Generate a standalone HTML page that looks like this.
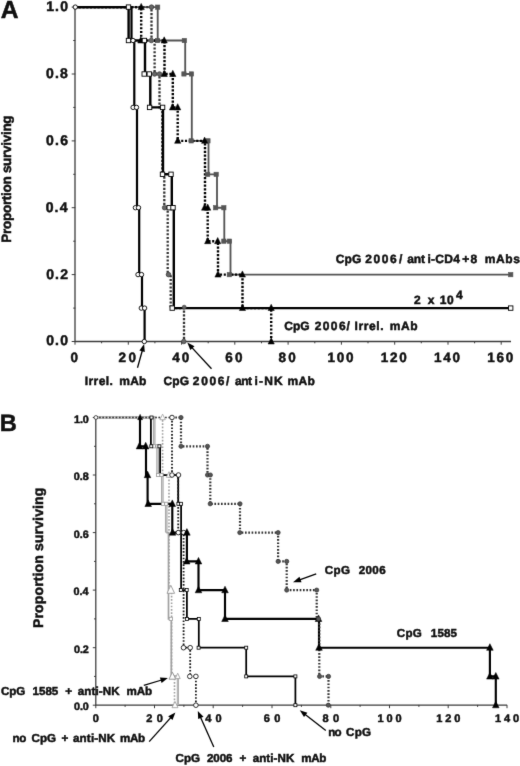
<!DOCTYPE html>
<html lang="en">
<head>
<meta charset="utf-8">
<title>Survival curves</title>
<style>
html,body{margin:0;padding:0;background:#fff;}
body{width:520px;height:766px;overflow:hidden;}
svg{display:block;}
svg text{font-family:"Liberation Sans",Arial,Helvetica,sans-serif;font-weight:bold;fill:#111;stroke:#111;stroke-width:0.5px;text-rendering:geometricPrecision;}
</style>
</head>
<body>
<svg width="520" height="766" viewBox="0 0 520 766">
<defs><filter id="soft" x="0" y="0" width="520" height="766" filterUnits="userSpaceOnUse" color-interpolation-filters="sRGB"><feConvolveMatrix order="3" kernelMatrix="0.0074 0.0713 0.0074 0.0713 0.6853 0.0713 0.0074 0.0713 0.0074" edgeMode="duplicate" preserveAlpha="true"/></filter></defs>
<rect width="520" height="766" fill="#fff"/>
<g filter="url(#soft)">
<rect width="520" height="766" fill="#fff"/>
<path d="M75.0 7.1 V341.5 H511" fill="none" stroke="#3c3c3c" stroke-width="1.3"/>
<line x1="75.0" y1="341.2" x2="75.0" y2="344.7" stroke="#3c3c3c" stroke-width="1"/>
<line x1="101.6" y1="341.2" x2="101.6" y2="343.3" stroke="#3c3c3c" stroke-width="1"/>
<line x1="128.3" y1="341.2" x2="128.3" y2="344.7" stroke="#3c3c3c" stroke-width="1"/>
<line x1="154.9" y1="341.2" x2="154.9" y2="343.3" stroke="#3c3c3c" stroke-width="1"/>
<line x1="181.6" y1="341.2" x2="181.6" y2="344.7" stroke="#3c3c3c" stroke-width="1"/>
<line x1="208.2" y1="341.2" x2="208.2" y2="343.3" stroke="#3c3c3c" stroke-width="1"/>
<line x1="234.8" y1="341.2" x2="234.8" y2="344.7" stroke="#3c3c3c" stroke-width="1"/>
<line x1="261.5" y1="341.2" x2="261.5" y2="343.3" stroke="#3c3c3c" stroke-width="1"/>
<line x1="288.1" y1="341.2" x2="288.1" y2="344.7" stroke="#3c3c3c" stroke-width="1"/>
<line x1="314.8" y1="341.2" x2="314.8" y2="343.3" stroke="#3c3c3c" stroke-width="1"/>
<line x1="341.4" y1="341.2" x2="341.4" y2="344.7" stroke="#3c3c3c" stroke-width="1"/>
<line x1="368.0" y1="341.2" x2="368.0" y2="343.3" stroke="#3c3c3c" stroke-width="1"/>
<line x1="394.7" y1="341.2" x2="394.7" y2="344.7" stroke="#3c3c3c" stroke-width="1"/>
<line x1="421.3" y1="341.2" x2="421.3" y2="343.3" stroke="#3c3c3c" stroke-width="1"/>
<line x1="448.0" y1="341.2" x2="448.0" y2="344.7" stroke="#3c3c3c" stroke-width="1"/>
<line x1="474.6" y1="341.2" x2="474.6" y2="343.3" stroke="#3c3c3c" stroke-width="1"/>
<line x1="501.2" y1="341.2" x2="501.2" y2="344.7" stroke="#3c3c3c" stroke-width="1"/>
<line x1="71.7" y1="341.5" x2="75.3" y2="341.5" stroke="#3c3c3c" stroke-width="1"/>
<line x1="73.2" y1="308.1" x2="75.3" y2="308.1" stroke="#3c3c3c" stroke-width="1"/>
<line x1="71.7" y1="274.6" x2="75.3" y2="274.6" stroke="#3c3c3c" stroke-width="1"/>
<line x1="73.2" y1="241.2" x2="75.3" y2="241.2" stroke="#3c3c3c" stroke-width="1"/>
<line x1="71.7" y1="207.7" x2="75.3" y2="207.7" stroke="#3c3c3c" stroke-width="1"/>
<line x1="73.2" y1="174.3" x2="75.3" y2="174.3" stroke="#3c3c3c" stroke-width="1"/>
<line x1="71.7" y1="140.9" x2="75.3" y2="140.9" stroke="#3c3c3c" stroke-width="1"/>
<line x1="73.2" y1="107.4" x2="75.3" y2="107.4" stroke="#3c3c3c" stroke-width="1"/>
<line x1="71.7" y1="74.0" x2="75.3" y2="74.0" stroke="#3c3c3c" stroke-width="1"/>
<line x1="73.2" y1="40.5" x2="75.3" y2="40.5" stroke="#3c3c3c" stroke-width="1"/>
<line x1="71.7" y1="7.1" x2="75.3" y2="7.1" stroke="#3c3c3c" stroke-width="1"/>
<path d="M75.0 7.1 L157.7 7.1 L157.7 40.5 L185.2 40.5 L185.2 74.0 L191.8 74.0 L191.8 140.9 L208.5 140.9 L208.5 174.3 L217.0 174.3 L217.0 207.7 L224.3 207.7 L224.3 241.2 L230.5 241.2 L230.5 274.6 L510.7 274.6" fill="none" stroke="#555" stroke-width="1.85"/>
<path d="M75.0 7.1 L151.5 7.1 L151.5 40.5 L154.6 40.5 L154.6 74.0 L159.5 74.0 L159.5 107.4 L162.3 107.4 L162.3 174.3 L164.3 174.3 L164.3 207.7 L167.7 207.7 L167.7 274.6 L170.7 274.6 L170.7 308.1 L184.0 308.1 L184.0 341.5" fill="none" stroke="#333" stroke-width="2.3" stroke-dasharray="2.1 1.65"/>
<path d="M75.0 7.1 L141.2 7.1 L141.2 40.5 L164.5 40.5 L164.5 74.0 L172.8 74.0 L172.8 107.4 L177.7 107.4 L177.7 140.9 L205.0 140.9 L205.0 207.7 L207.7 207.7 L207.7 241.2 L218.0 241.2 L218.0 274.6 L242.5 274.6 L242.5 308.1 L271.2 308.1 L271.2 341.5" fill="none" stroke="#000" stroke-width="2.4" stroke-dasharray="2.1 1.65"/>
<path d="M75.0 7.1 L128.6 7.1 L128.6 40.5 L145.0 40.5 L145.0 74.0 L150.3 74.0 L150.3 107.4 L163.0 107.4 L163.0 174.3 L171.8 174.3 L171.8 207.7 L173.8 207.7 L173.8 308.1 L510.7 308.1" fill="none" stroke="#000" stroke-width="2.4"/>
<path d="M75.0 7.1 L131.5 7.1 L131.5 40.5 L134.3 40.5 L134.3 107.4 L137.0 107.4 L137.0 207.7 L139.2 207.7 L139.2 274.6 L142.0 274.6 L142.0 308.1 L144.6 308.1 L144.6 341.5" fill="none" stroke="#000" stroke-width="2.2"/>
<rect x="155.5" y="5.0" width="4.3" height="4.3" fill="#555" stroke="#555" stroke-width="0.6"/>
<rect x="155.3" y="38.4" width="4.3" height="4.3" fill="#555" stroke="#555" stroke-width="0.6"/>
<rect x="182.2" y="38.4" width="4.3" height="4.3" fill="#555" stroke="#555" stroke-width="0.6"/>
<rect x="181.8" y="71.8" width="4.3" height="4.3" fill="#555" stroke="#555" stroke-width="0.6"/>
<rect x="189.3" y="71.8" width="4.3" height="4.3" fill="#555" stroke="#555" stroke-width="0.6"/>
<rect x="189.0" y="138.7" width="4.3" height="4.3" fill="#555" stroke="#555" stroke-width="0.6"/>
<rect x="205.8" y="138.7" width="4.3" height="4.3" fill="#555" stroke="#555" stroke-width="0.6"/>
<rect x="205.5" y="172.2" width="4.3" height="4.3" fill="#555" stroke="#555" stroke-width="0.6"/>
<rect x="214.0" y="172.2" width="4.3" height="4.3" fill="#555" stroke="#555" stroke-width="0.6"/>
<rect x="213.5" y="205.6" width="4.3" height="4.3" fill="#555" stroke="#555" stroke-width="0.6"/>
<rect x="221.7" y="205.6" width="4.3" height="4.3" fill="#555" stroke="#555" stroke-width="0.6"/>
<rect x="221.7" y="239.0" width="4.3" height="4.3" fill="#555" stroke="#555" stroke-width="0.6"/>
<rect x="227.3" y="239.0" width="4.3" height="4.3" fill="#555" stroke="#555" stroke-width="0.6"/>
<rect x="227.2" y="272.5" width="4.3" height="4.3" fill="#555" stroke="#555" stroke-width="0.6"/>
<rect x="508.6" y="272.5" width="4.3" height="4.3" fill="#555" stroke="#555" stroke-width="0.6"/>
<circle cx="151.5" cy="7.1" r="2.3" fill="#666" stroke="#333" stroke-width="0.7"/>
<circle cx="151.3" cy="40.5" r="2.3" fill="#666" stroke="#333" stroke-width="0.7"/>
<circle cx="154.6" cy="74.0" r="2.3" fill="#666" stroke="#333" stroke-width="0.7"/>
<circle cx="159.5" cy="74.0" r="2.3" fill="#666" stroke="#333" stroke-width="0.7"/>
<circle cx="164.6" cy="207.7" r="2.3" fill="#666" stroke="#333" stroke-width="0.7"/>
<circle cx="168.5" cy="274.6" r="2.3" fill="#666" stroke="#333" stroke-width="0.7"/>
<circle cx="183.8" cy="341.5" r="2.3" fill="#666" stroke="#333" stroke-width="0.7"/>
<circle cx="184.2" cy="307.2" r="2.0" fill="#666" stroke="#333" stroke-width="0.6"/>
<path d="M138.1 9.6 L144.3 9.6 L141.2 3.4 Z" fill="#000" stroke="#000" stroke-width="0.5"/>
<path d="M137.7 43.0 L143.9 43.0 L140.8 36.8 Z" fill="#000" stroke="#000" stroke-width="0.5"/>
<path d="M161.1 43.0 L167.3 43.0 L164.2 36.8 Z" fill="#000" stroke="#000" stroke-width="0.5"/>
<path d="M161.1 76.5 L167.3 76.5 L164.2 70.3 Z" fill="#000" stroke="#000" stroke-width="0.5"/>
<path d="M169.7 76.5 L175.9 76.5 L172.8 70.3 Z" fill="#000" stroke="#000" stroke-width="0.5"/>
<path d="M169.4 109.9 L175.6 109.9 L172.5 103.7 Z" fill="#000" stroke="#000" stroke-width="0.5"/>
<path d="M174.6 109.9 L180.8 109.9 L177.7 103.7 Z" fill="#000" stroke="#000" stroke-width="0.5"/>
<path d="M174.6 143.3 L180.8 143.3 L177.7 137.1 Z" fill="#000" stroke="#000" stroke-width="0.5"/>
<path d="M201.5 143.3 L207.7 143.3 L204.6 137.1 Z" fill="#000" stroke="#000" stroke-width="0.5"/>
<path d="M201.5 210.2 L207.7 210.2 L204.6 204.0 Z" fill="#000" stroke="#000" stroke-width="0.5"/>
<path d="M204.6 210.2 L210.8 210.2 L207.7 204.0 Z" fill="#000" stroke="#000" stroke-width="0.5"/>
<path d="M204.6 243.7 L210.8 243.7 L207.7 237.5 Z" fill="#000" stroke="#000" stroke-width="0.5"/>
<path d="M214.6 243.7 L220.8 243.7 L217.7 237.5 Z" fill="#000" stroke="#000" stroke-width="0.5"/>
<path d="M214.9 277.1 L221.1 277.1 L218.0 270.9 Z" fill="#000" stroke="#000" stroke-width="0.5"/>
<path d="M239.3 277.1 L245.5 277.1 L242.4 270.9 Z" fill="#000" stroke="#000" stroke-width="0.5"/>
<path d="M239.4 310.5 L245.6 310.5 L242.5 304.3 Z" fill="#000" stroke="#000" stroke-width="0.5"/>
<path d="M268.1 310.5 L274.3 310.5 L271.2 304.3 Z" fill="#000" stroke="#000" stroke-width="0.5"/>
<path d="M268.1 344.0 L274.3 344.0 L271.2 337.8 Z" fill="#000" stroke="#000" stroke-width="0.5"/>
<rect x="126.3" y="4.9" width="4.4" height="4.4" fill="#fff" stroke="#000" stroke-width="0.9"/>
<rect x="126.3" y="38.3" width="4.4" height="4.4" fill="#fff" stroke="#000" stroke-width="0.9"/>
<rect x="142.2" y="38.3" width="4.4" height="4.4" fill="#fff" stroke="#000" stroke-width="0.9"/>
<rect x="142.0" y="71.8" width="4.4" height="4.4" fill="#fff" stroke="#000" stroke-width="0.9"/>
<rect x="147.1" y="71.8" width="4.4" height="4.4" fill="#fff" stroke="#000" stroke-width="0.9"/>
<rect x="147.4" y="105.2" width="4.4" height="4.4" fill="#fff" stroke="#000" stroke-width="0.9"/>
<rect x="160.4" y="105.2" width="4.4" height="4.4" fill="#fff" stroke="#000" stroke-width="0.9"/>
<rect x="160.3" y="172.1" width="4.4" height="4.4" fill="#fff" stroke="#000" stroke-width="0.9"/>
<rect x="168.8" y="172.1" width="4.4" height="4.4" fill="#fff" stroke="#000" stroke-width="0.9"/>
<rect x="167.0" y="205.5" width="4.4" height="4.4" fill="#fff" stroke="#000" stroke-width="0.9"/>
<rect x="170.8" y="205.5" width="4.4" height="4.4" fill="#fff" stroke="#000" stroke-width="0.9"/>
<rect x="170.0" y="305.9" width="4.4" height="4.4" fill="#fff" stroke="#000" stroke-width="0.9"/>
<rect x="508.5" y="305.9" width="4.4" height="4.4" fill="#fff" stroke="#000" stroke-width="0.9"/>
<circle cx="75.3" cy="7.1" r="2.2" fill="#fff" stroke="#000" stroke-width="0.9"/>
<circle cx="133.0" cy="40.5" r="2.2" fill="#fff" stroke="#000" stroke-width="0.9"/>
<circle cx="133.1" cy="107.4" r="2.2" fill="#fff" stroke="#000" stroke-width="0.9"/>
<circle cx="136.5" cy="107.4" r="2.2" fill="#fff" stroke="#000" stroke-width="0.9"/>
<circle cx="135.4" cy="207.7" r="2.2" fill="#fff" stroke="#000" stroke-width="0.9"/>
<circle cx="138.5" cy="207.7" r="2.2" fill="#fff" stroke="#000" stroke-width="0.9"/>
<circle cx="138.0" cy="274.6" r="2.2" fill="#fff" stroke="#000" stroke-width="0.9"/>
<circle cx="141.5" cy="274.6" r="2.2" fill="#fff" stroke="#000" stroke-width="0.9"/>
<circle cx="141.3" cy="308.1" r="2.2" fill="#fff" stroke="#000" stroke-width="0.9"/>
<circle cx="144.6" cy="308.1" r="2.2" fill="#fff" stroke="#000" stroke-width="0.9"/>
<circle cx="144.3" cy="341.5" r="2.2" fill="#fff" stroke="#000" stroke-width="0.9"/>
<text x="46.14" y="11.0" font-size="14.0" letter-spacing="1.21">1.0</text>
<text x="46.00" y="77.9" font-size="14.0" letter-spacing="1.21">0.8</text>
<text x="46.07" y="144.8" font-size="14.0" letter-spacing="1.21">0.6</text>
<text x="45.64" y="211.6" font-size="14.0" letter-spacing="1.21">0.4</text>
<text x="46.13" y="278.5" font-size="14.0" letter-spacing="1.21">0.2</text>
<text x="46.14" y="345.4" font-size="14.0" letter-spacing="1.21">0.0</text>
<text x="70.62" y="361.5" font-size="13.5" letter-spacing="0.00">0</text>
<text x="118.61" y="361.5" font-size="13.5" letter-spacing="2.41">20</text>
<text x="172.16" y="361.5" font-size="13.5" letter-spacing="2.14">40</text>
<text x="225.15" y="361.5" font-size="13.5" letter-spacing="2.43">60</text>
<text x="278.49" y="361.5" font-size="13.5" letter-spacing="2.37">80</text>
<text x="327.50" y="361.5" font-size="13.5" letter-spacing="1.69">100</text>
<text x="380.78" y="361.5" font-size="13.5" letter-spacing="1.69">120</text>
<text x="434.06" y="361.5" font-size="13.5" letter-spacing="1.69">140</text>
<text x="487.34" y="361.5" font-size="13.5" letter-spacing="1.69">160</text>
<text x="0.64" y="18.2" font-size="24.6" letter-spacing="0.00">A</text>
<g transform="translate(11.3 241.6) rotate(-90)">
<text x="-1.05" y="0.0" font-size="13.5" letter-spacing="-0.29">Proportion surviving</text>
</g>
<text y="262.6" font-size="12.0"><tspan x="335.76" letter-spacing="0.10">CpG </tspan><tspan x="365.33" letter-spacing="1.58">2006</tspan><tspan x="398.93" letter-spacing="0.00">/ </tspan><tspan x="407.20" letter-spacing="-0.15">ant</tspan><tspan x="427.41" letter-spacing="0.27">i-CD4</tspan><tspan x="462.25" letter-spacing="0.00">+</tspan><tspan x="470.47" letter-spacing="0.00">8 </tspan><tspan x="484.86" letter-spacing="0.55">mAbs</tspan></text>
<text y="303.6" font-size="12.0"><tspan x="414.03" letter-spacing="0.00">2 </tspan><tspan x="427.67" letter-spacing="0.00">x </tspan><tspan x="439.79" letter-spacing="0.00">1</tspan><tspan x="446.98" letter-spacing="0.00">0</tspan><tspan x="456.07" y="299.4" font-size="12.0" letter-spacing="0.00">4</tspan></text>
<text y="330.3" font-size="12.0"><tspan x="284.36" letter-spacing="-0.10">CpG </tspan><tspan x="314.63" letter-spacing="1.42">2006</tspan><tspan x="346.43" letter-spacing="0.00">/ </tspan><tspan x="354.45" letter-spacing="0.62">Irrel. </tspan><tspan x="389.86" letter-spacing="0.51">mAb</tspan></text>
<text y="384.9" font-size="12.0"><tspan x="84.75" letter-spacing="0.42">Irrel. </tspan><tspan x="119.16" letter-spacing="0.31">mAb</tspan></text>
<text y="384.9" font-size="12.0"><tspan x="163.56" letter-spacing="0.05">CpG </tspan><tspan x="192.83" letter-spacing="1.65">2006</tspan><tspan x="225.93" letter-spacing="0.00">/ </tspan><tspan x="235.10" letter-spacing="-0.50">ant</tspan><tspan x="254.51" letter-spacing="1.16">i-NK </tspan><tspan x="287.46" letter-spacing="0.31">mAb</tspan></text>
<line x1="137.5" y1="367.7" x2="142.4" y2="350.3" stroke="#000" stroke-width="1.3"/>
<path d="M144.1 344.0 L144.8 352.0 L139.4 350.5 Z" fill="#000"/>
<line x1="211.5" y1="368.7" x2="191.7" y2="347.4" stroke="#000" stroke-width="1.3"/>
<path d="M187.3 342.6 L194.5 346.2 L190.3 350.0 Z" fill="#000"/>
<path d="M95.8 417.5 V705.2 H507" fill="none" stroke="#3c3c3c" stroke-width="1.25"/>
<line x1="95.8" y1="704.9" x2="95.8" y2="708.2" stroke="#3c3c3c" stroke-width="1"/>
<line x1="125.1" y1="704.9" x2="125.1" y2="706.9" stroke="#3c3c3c" stroke-width="1"/>
<line x1="154.5" y1="704.9" x2="154.5" y2="708.2" stroke="#3c3c3c" stroke-width="1"/>
<line x1="183.9" y1="704.9" x2="183.9" y2="706.9" stroke="#3c3c3c" stroke-width="1"/>
<line x1="213.2" y1="704.9" x2="213.2" y2="708.2" stroke="#3c3c3c" stroke-width="1"/>
<line x1="242.6" y1="704.9" x2="242.6" y2="706.9" stroke="#3c3c3c" stroke-width="1"/>
<line x1="272.0" y1="704.9" x2="272.0" y2="708.2" stroke="#3c3c3c" stroke-width="1"/>
<line x1="301.4" y1="704.9" x2="301.4" y2="706.9" stroke="#3c3c3c" stroke-width="1"/>
<line x1="330.8" y1="704.9" x2="330.8" y2="708.2" stroke="#3c3c3c" stroke-width="1"/>
<line x1="360.1" y1="704.9" x2="360.1" y2="706.9" stroke="#3c3c3c" stroke-width="1"/>
<line x1="389.5" y1="704.9" x2="389.5" y2="708.2" stroke="#3c3c3c" stroke-width="1"/>
<line x1="418.9" y1="704.9" x2="418.9" y2="706.9" stroke="#3c3c3c" stroke-width="1"/>
<line x1="448.2" y1="704.9" x2="448.2" y2="708.2" stroke="#3c3c3c" stroke-width="1"/>
<line x1="477.6" y1="704.9" x2="477.6" y2="706.9" stroke="#3c3c3c" stroke-width="1"/>
<line x1="507.0" y1="704.9" x2="507.0" y2="708.2" stroke="#3c3c3c" stroke-width="1"/>
<line x1="92.8" y1="705.2" x2="96.0" y2="705.2" stroke="#3c3c3c" stroke-width="1"/>
<line x1="94.0" y1="676.4" x2="96.0" y2="676.4" stroke="#3c3c3c" stroke-width="1"/>
<line x1="92.8" y1="647.7" x2="96.0" y2="647.7" stroke="#3c3c3c" stroke-width="1"/>
<line x1="94.0" y1="618.9" x2="96.0" y2="618.9" stroke="#3c3c3c" stroke-width="1"/>
<line x1="92.8" y1="590.1" x2="96.0" y2="590.1" stroke="#3c3c3c" stroke-width="1"/>
<line x1="94.0" y1="561.4" x2="96.0" y2="561.4" stroke="#3c3c3c" stroke-width="1"/>
<line x1="92.8" y1="532.6" x2="96.0" y2="532.6" stroke="#3c3c3c" stroke-width="1"/>
<line x1="94.0" y1="503.8" x2="96.0" y2="503.8" stroke="#3c3c3c" stroke-width="1"/>
<line x1="92.8" y1="475.0" x2="96.0" y2="475.0" stroke="#3c3c3c" stroke-width="1"/>
<line x1="94.0" y1="446.3" x2="96.0" y2="446.3" stroke="#3c3c3c" stroke-width="1"/>
<line x1="92.8" y1="417.5" x2="96.0" y2="417.5" stroke="#3c3c3c" stroke-width="1"/>
<path d="M95.8 417.5 L154.2 417.5 L154.2 446.3 L157.6 446.3 L157.6 475.0 L162.3 475.0 L162.3 503.8 L166.2 503.8 L166.2 532.6" fill="none" stroke="#9c9c9c" stroke-width="2.5"/>
<path d="M95.8 417.5 L154.2 417.5 L154.2 446.3 L157.6 446.3 L157.6 475.0 L162.3 475.0 L162.3 503.8 L166.2 503.8 L166.2 532.6" fill="none" stroke="#d4d4d4" stroke-width="0.9"/>
<path d="M166.2 532.6 L168.5 532.6 L168.5 618.9 L171.3 618.9 L171.3 676.4" fill="none" stroke="#a2a2a2" stroke-width="1.7"/>
<path d="M171.3 676.4 L177.9 676.4 L177.9 705.2" fill="none" stroke="#a0a0a0" stroke-width="2.2"/>
<path d="M171.3 676.4 L177.9 676.4 L177.9 705.2" fill="none" stroke="#d4d4d4" stroke-width="0.7"/>
<path d="M95.8 417.5 L162.6 417.5 L162.6 475.0 L169.0 475.0 L169.0 590.1 L171.6 590.1 L171.6 676.4 L174.5 676.4 L174.5 705.2" fill="none" stroke="#a0a0a0" stroke-width="1.6" stroke-dasharray="1.65 1.65"/>
<path d="M150.9 417.5 L150.9 446.3 L160.1 446.3 L160.1 475.0 L178.2 475.0 L178.2 503.8 L181.1 503.8 L181.1 590.1 L186.9 590.1 L186.9 618.9 L198.8 618.9 L198.8 647.7 L246.2 647.7 L246.2 676.4 L295.4 676.4 L295.4 705.2" fill="none" stroke="#000" stroke-width="1.75"/>
<path d="M140.0 417.5 L140.0 446.3 L146.0 446.3 L146.0 475.0 L147.6 475.0 L147.6 503.8 L172.3 503.8 L172.3 532.6 L186.9 532.6 L186.9 561.4 L198.5 561.4 L198.5 590.1 L225.0 590.1 L225.0 618.9 L319.0 618.9 L319.0 647.7 L489.9 647.7 L489.9 676.4 L495.8 676.4 L495.8 705.2" fill="none" stroke="#000" stroke-width="2.15"/>
<path d="M95.8 417.5 L172.0 417.5" fill="none" stroke="#3c3c3c" stroke-width="1.6" stroke-dasharray="1.65 1.65"/>
<path d="M172.0 417.5 L172.0 475.0 L178.2 475.0 L178.2 532.6 L183.6 532.6 L183.6 647.7 L190.2 647.7 L190.2 676.4 L195.9 676.4 L195.9 705.2" fill="none" stroke="#1c1c1c" stroke-width="1.8" stroke-dasharray="1.65 1.65"/>
<path d="M172.0 417.5 L181.0 417.5 L181.0 446.3 L207.5 446.3 L207.5 475.0 L210.3 475.0 L210.3 503.8 L240.0 503.8 L240.0 532.6 L278.1 532.6 L278.1 561.4 L286.7 561.4 L286.7 590.1 L316.7 590.1 L316.7 618.9 L319.3 618.9 L319.3 676.4 L328.5 676.4 L328.5 705.2" fill="none" stroke="#333" stroke-width="2.2" stroke-dasharray="1.65 1.65"/>
<rect x="152.4" y="444.7" width="3.2" height="3.2" fill="#fff" stroke="#999" stroke-width="0.8"/>
<rect x="155.9" y="444.7" width="3.2" height="3.2" fill="#fff" stroke="#999" stroke-width="0.8"/>
<rect x="156.6" y="473.4" width="3.2" height="3.2" fill="#fff" stroke="#999" stroke-width="0.8"/>
<rect x="159.9" y="473.4" width="3.2" height="3.2" fill="#fff" stroke="#999" stroke-width="0.8"/>
<rect x="161.4" y="502.2" width="3.2" height="3.2" fill="#fff" stroke="#999" stroke-width="0.8"/>
<rect x="164.7" y="502.2" width="3.2" height="3.2" fill="#fff" stroke="#999" stroke-width="0.8"/>
<rect x="169.2" y="617.3" width="3.2" height="3.2" fill="#fff" stroke="#999" stroke-width="0.8"/>
<path d="M159.9 419.7 L165.3 419.7 L162.6 414.1 Z" fill="#fff" stroke="#a8a8a8" stroke-width="0.9"/>
<path d="M166.3 477.3 L171.7 477.3 L169.0 471.7 Z" fill="#fff" stroke="#a8a8a8" stroke-width="0.9"/>
<path d="M167.0 593.3 L174.6 593.3 L170.8 585.3 Z" fill="#fff" stroke="#a0a0a0" stroke-width="1.0"/>
<path d="M169.0 679.2 L175.8 679.2 L172.4 672.2 Z" fill="#fff" stroke="#999" stroke-width="1.0"/>
<path d="M175.2 678.6 L180.2 678.6 L177.7 673.2 Z" fill="#fff" stroke="#a4a4a4" stroke-width="0.9"/>
<path d="M172.0 707.7 L178.0 707.7 L175.0 701.5 Z" fill="#fff" stroke="#a4a4a4" stroke-width="0.9"/>
<circle cx="172.0" cy="417.5" r="2.3" fill="#fff" stroke="#000" stroke-width="0.8"/>
<circle cx="172.0" cy="475.0" r="2.3" fill="#fff" stroke="#000" stroke-width="0.8"/>
<circle cx="178.5" cy="475.0" r="2.3" fill="#fff" stroke="#000" stroke-width="0.8"/>
<circle cx="178.3" cy="532.6" r="2.3" fill="#fff" stroke="#000" stroke-width="0.8"/>
<circle cx="183.7" cy="532.6" r="2.3" fill="#fff" stroke="#000" stroke-width="0.8"/>
<circle cx="183.5" cy="647.7" r="2.3" fill="#fff" stroke="#000" stroke-width="0.8"/>
<circle cx="190.2" cy="647.7" r="2.3" fill="#fff" stroke="#000" stroke-width="0.8"/>
<circle cx="189.8" cy="676.4" r="2.3" fill="#fff" stroke="#000" stroke-width="0.8"/>
<circle cx="195.9" cy="676.4" r="2.3" fill="#fff" stroke="#000" stroke-width="0.8"/>
<circle cx="195.9" cy="705.2" r="2.3" fill="#fff" stroke="#000" stroke-width="0.8"/>
<rect x="150.0" y="416.0" width="3.0" height="3.0" fill="#fff" stroke="#000" stroke-width="0.8"/>
<rect x="149.8" y="444.8" width="3.0" height="3.0" fill="#fff" stroke="#000" stroke-width="0.8"/>
<rect x="157.9" y="444.8" width="3.0" height="3.0" fill="#fff" stroke="#000" stroke-width="0.8"/>
<rect x="176.9" y="502.3" width="3.0" height="3.0" fill="#fff" stroke="#000" stroke-width="0.8"/>
<rect x="179.5" y="502.3" width="3.0" height="3.0" fill="#fff" stroke="#000" stroke-width="0.8"/>
<rect x="179.3" y="588.6" width="3.0" height="3.0" fill="#fff" stroke="#000" stroke-width="0.8"/>
<rect x="185.2" y="588.6" width="3.0" height="3.0" fill="#fff" stroke="#000" stroke-width="0.8"/>
<rect x="185.4" y="617.4" width="3.0" height="3.0" fill="#fff" stroke="#000" stroke-width="0.8"/>
<rect x="197.3" y="617.4" width="3.0" height="3.0" fill="#fff" stroke="#000" stroke-width="0.8"/>
<rect x="197.1" y="646.2" width="3.0" height="3.0" fill="#fff" stroke="#000" stroke-width="0.8"/>
<rect x="244.7" y="646.2" width="3.0" height="3.0" fill="#fff" stroke="#000" stroke-width="0.8"/>
<rect x="244.7" y="674.9" width="3.0" height="3.0" fill="#fff" stroke="#000" stroke-width="0.8"/>
<rect x="293.9" y="674.9" width="3.0" height="3.0" fill="#fff" stroke="#000" stroke-width="0.8"/>
<rect x="293.9" y="703.7" width="3.0" height="3.0" fill="#fff" stroke="#000" stroke-width="0.8"/>
<path d="M137.6 419.7 L142.6 419.7 L140.1 414.3 Z" fill="#000" stroke="#000" stroke-width="0.4"/>
<path d="M136.2 448.9 L142.8 448.9 L139.5 442.3 Z" fill="#000" stroke="#000" stroke-width="0.5"/>
<path d="M142.4 448.9 L149.0 448.9 L145.7 442.3 Z" fill="#000" stroke="#000" stroke-width="0.5"/>
<path d="M144.2 477.7 L150.8 477.7 L147.5 471.1 Z" fill="#000" stroke="#000" stroke-width="0.5"/>
<path d="M144.9 506.5 L151.5 506.5 L148.2 499.9 Z" fill="#000" stroke="#000" stroke-width="0.5"/>
<path d="M169.0 506.5 L175.6 506.5 L172.3 499.9 Z" fill="#000" stroke="#000" stroke-width="0.5"/>
<path d="M169.2 535.2 L175.8 535.2 L172.5 528.6 Z" fill="#000" stroke="#000" stroke-width="0.5"/>
<path d="M183.6 535.2 L190.2 535.2 L186.9 528.6 Z" fill="#000" stroke="#000" stroke-width="0.5"/>
<path d="M183.4 564.0 L190.0 564.0 L186.7 557.4 Z" fill="#000" stroke="#000" stroke-width="0.5"/>
<path d="M195.2 564.0 L201.8 564.0 L198.5 557.4 Z" fill="#000" stroke="#000" stroke-width="0.5"/>
<path d="M195.2 592.8 L201.8 592.8 L198.5 586.2 Z" fill="#000" stroke="#000" stroke-width="0.5"/>
<path d="M221.7 592.8 L228.3 592.8 L225.0 586.2 Z" fill="#000" stroke="#000" stroke-width="0.5"/>
<path d="M221.7 621.5 L228.3 621.5 L225.0 614.9 Z" fill="#000" stroke="#000" stroke-width="0.5"/>
<path d="M315.2 621.5 L321.8 621.5 L318.5 614.9 Z" fill="#000" stroke="#000" stroke-width="0.5"/>
<path d="M315.7 650.3 L322.3 650.3 L319.0 643.7 Z" fill="#000" stroke="#000" stroke-width="0.5"/>
<path d="M486.6 650.3 L493.2 650.3 L489.9 643.7 Z" fill="#000" stroke="#000" stroke-width="0.5"/>
<path d="M486.6 679.1 L493.2 679.1 L489.9 672.5 Z" fill="#000" stroke="#000" stroke-width="0.5"/>
<path d="M492.5 679.1 L499.1 679.1 L495.8 672.5 Z" fill="#000" stroke="#000" stroke-width="0.5"/>
<path d="M492.5 707.8 L499.1 707.8 L495.8 701.2 Z" fill="#000" stroke="#000" stroke-width="0.5"/>
<circle cx="181.0" cy="417.5" r="2.1" fill="#555" stroke="#333" stroke-width="0.7"/>
<circle cx="181.0" cy="446.3" r="2.1" fill="#555" stroke="#333" stroke-width="0.7"/>
<circle cx="207.5" cy="446.3" r="2.1" fill="#555" stroke="#333" stroke-width="0.7"/>
<circle cx="207.5" cy="475.0" r="2.1" fill="#555" stroke="#333" stroke-width="0.7"/>
<circle cx="210.4" cy="475.0" r="2.1" fill="#555" stroke="#333" stroke-width="0.7"/>
<circle cx="210.2" cy="503.8" r="2.1" fill="#555" stroke="#333" stroke-width="0.7"/>
<circle cx="240.0" cy="503.8" r="2.1" fill="#555" stroke="#333" stroke-width="0.7"/>
<circle cx="239.8" cy="532.6" r="2.1" fill="#555" stroke="#333" stroke-width="0.7"/>
<circle cx="278.1" cy="532.6" r="2.1" fill="#555" stroke="#333" stroke-width="0.7"/>
<circle cx="278.1" cy="561.4" r="2.1" fill="#555" stroke="#333" stroke-width="0.7"/>
<circle cx="286.7" cy="561.4" r="2.1" fill="#555" stroke="#333" stroke-width="0.7"/>
<circle cx="286.7" cy="590.1" r="2.1" fill="#555" stroke="#333" stroke-width="0.7"/>
<circle cx="316.7" cy="590.1" r="2.1" fill="#555" stroke="#333" stroke-width="0.7"/>
<circle cx="318.5" cy="618.9" r="2.1" fill="#555" stroke="#333" stroke-width="0.7"/>
<circle cx="319.6" cy="676.4" r="2.1" fill="#555" stroke="#333" stroke-width="0.7"/>
<circle cx="328.5" cy="676.4" r="2.1" fill="#555" stroke="#333" stroke-width="0.7"/>
<circle cx="328.3" cy="705.2" r="2.1" fill="#555" stroke="#333" stroke-width="0.7"/>
<circle cx="95.9" cy="417.5" r="1.9" fill="#fff" stroke="#222" stroke-width="0.8"/>
<text x="73.92" y="422.6" font-size="10.8" letter-spacing="-0.02">1.0</text>
<text x="73.81" y="480.1" font-size="10.8" letter-spacing="-0.02">0.8</text>
<text x="73.87" y="537.7" font-size="10.8" letter-spacing="-0.02">0.6</text>
<text x="73.54" y="595.2" font-size="10.8" letter-spacing="-0.02">0.4</text>
<text x="73.91" y="652.8" font-size="10.8" letter-spacing="-0.02">0.2</text>
<text x="73.92" y="710.3" font-size="10.8" letter-spacing="-0.02">0.0</text>
<text x="92.66" y="721.6" font-size="11.0" letter-spacing="0.00">0</text>
<text x="146.32" y="721.6" font-size="11.0" letter-spacing="4.40">20</text>
<text x="205.28" y="721.6" font-size="11.0" letter-spacing="4.18">40</text>
<text x="263.80" y="721.6" font-size="11.0" letter-spacing="4.42">60</text>
<text x="322.60" y="721.6" font-size="11.0" letter-spacing="4.36">80</text>
<text x="377.46" y="721.6" font-size="11.0" letter-spacing="2.85">100</text>
<text x="436.21" y="721.6" font-size="11.0" letter-spacing="2.85">120</text>
<text x="494.96" y="721.6" font-size="11.0" letter-spacing="2.85">140</text>
<text x="-0.33" y="431.0" font-size="23.6" letter-spacing="0.00">B</text>
<g transform="translate(43.4 627.3) rotate(-90)">
<text x="-0.69" y="0.0" font-size="14.0" letter-spacing="0.14">Proportion surviving</text>
</g>
<text y="573.8" font-size="11.6"><tspan x="324.77" letter-spacing="0.35">CpG </tspan><tspan x="358.65" letter-spacing="0.41">2006</tspan></text>
<text y="637.3" font-size="11.6"><tspan x="396.77" letter-spacing="0.25">CpG </tspan><tspan x="430.82" letter-spacing="0.15">1585</tspan></text>
<text y="695.2" font-size="11.6"><tspan x="0.97" letter-spacing="-0.05">CpG </tspan><tspan x="32.62" letter-spacing="-0.05">1585 </tspan><tspan x="65.16" letter-spacing="0.00">+ </tspan><tspan x="77.71" letter-spacing="0.12">anti-NK </tspan><tspan x="126.39" letter-spacing="-0.02">mAb</tspan></text>
<text y="741.6" font-size="11.6"><tspan x="12.39" letter-spacing="-0.15">no </tspan><tspan x="31.57" letter-spacing="0.05">CpG </tspan><tspan x="61.56" letter-spacing="0.00">+ </tspan><tspan x="73.01" letter-spacing="0.17">anti-NK </tspan><tspan x="119.99" letter-spacing="-0.37">mAb</tspan></text>
<text y="762.4" font-size="11.6"><tspan x="175.57" letter-spacing="0.05">CpG </tspan><tspan x="206.95" letter-spacing="-0.09">2006 </tspan><tspan x="239.46" letter-spacing="0.00">+ </tspan><tspan x="252.71" letter-spacing="0.07">anti-NK </tspan><tspan x="301.19" letter-spacing="-0.37">mAb</tspan></text>
<text y="736.2" font-size="11.6"><tspan x="328.29" letter-spacing="-0.95">no </tspan><tspan x="346.07" letter-spacing="0.20">CpG</tspan></text>
<line x1="316.2" y1="573.8" x2="299.6" y2="579.8" stroke="#000" stroke-width="1.3"/>
<path d="M293.0 582.2 L299.5 576.7 L301.5 582.3 Z" fill="#000"/>
<line x1="143.8" y1="685.4" x2="161.7" y2="680.0" stroke="#000" stroke-width="1.3"/>
<path d="M167.9 678.1 L161.6 683.0 L159.9 677.5 Z" fill="#000"/>
<line x1="149.2" y1="741.6" x2="171.0" y2="717.4" stroke="#000" stroke-width="1.3"/>
<path d="M175.4 712.6 L172.5 720.1 L168.2 716.2 Z" fill="#000"/>
<line x1="213.8" y1="747.0" x2="200.4" y2="716.9" stroke="#000" stroke-width="1.3"/>
<path d="M197.8 711.0 L203.5 716.7 L198.2 719.0 Z" fill="#000"/>
<line x1="325.8" y1="730.4" x2="304.9" y2="714.3" stroke="#000" stroke-width="1.3"/>
<path d="M299.8 710.3 L307.4 712.7 L304.0 717.1 Z" fill="#000"/>
</g>
</svg>
</body>
</html>
